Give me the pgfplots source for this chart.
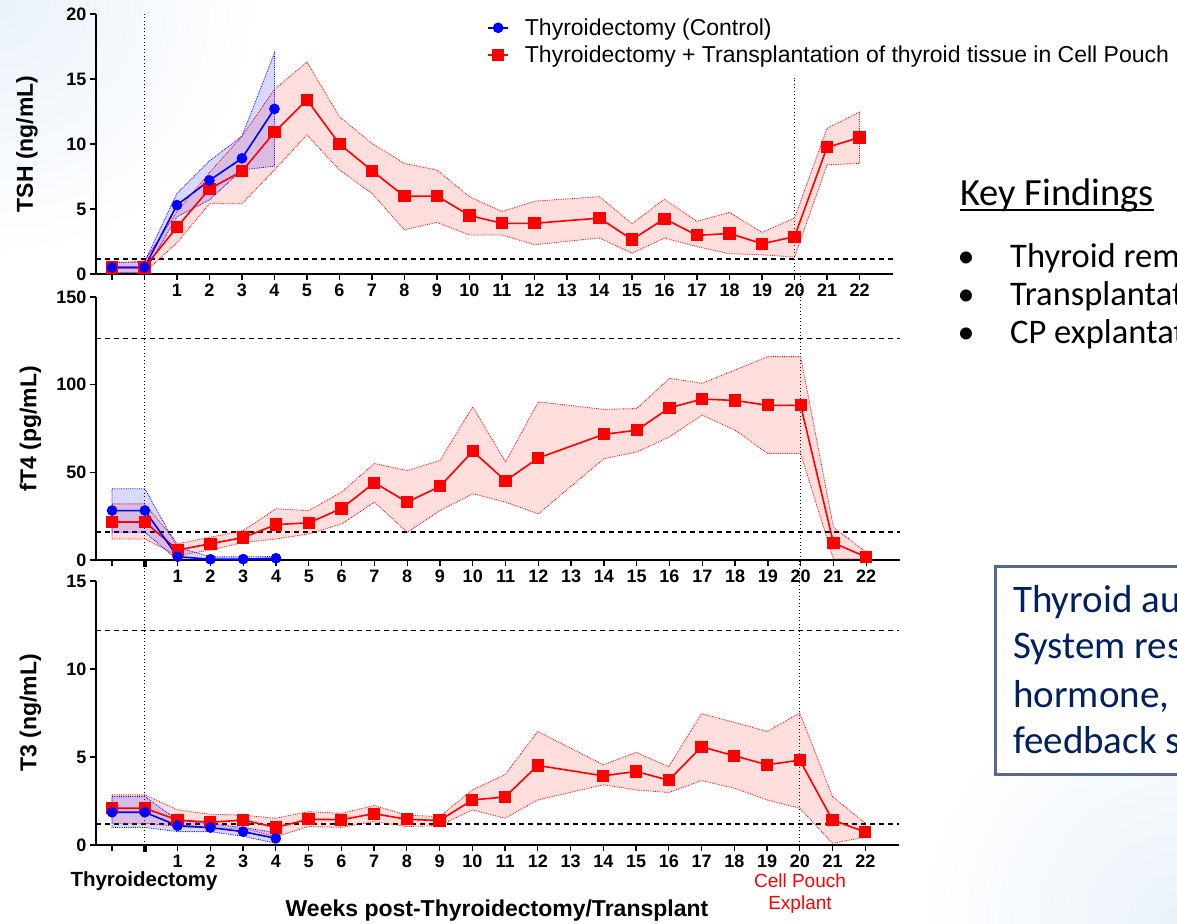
\documentclass[border=0pt]{standalone}
\usepackage{pgfplots}
\pgfplotsset{compat=1.18}
\usepackage{fontspec}
\setmainfont{Liberation Sans}
\newfontfamily\carlito{Carlito}
\definecolor{navy}{RGB}{0,32,96}
\definecolor{boxborder}{RGB}{84,104,146}
\definecolor{bgblue}{RGB}{234,242,250}

\pgfplotsset{
  panel/.style={
    scale only axis,
    xmin=-1.49, xmax=23.03,
    axis x line*=bottom, axis y line*=left,
    axis line style={line width=1.6pt, -},
    tick style={line width=1.3pt, black},
    tick align=outside,
    major tick length=6pt, minor tick length=6pt,
    xtick={1,...,22},
    /pgf/number format/assume math mode=true,
    tick label style={font=\fontsize{18}{21}\selectfont\bfseries},
    xticklabel style={text height=13pt, text depth=0pt, inner sep=1pt, yshift=-2.5pt},
    clip=false,
    every axis y label/.style={at={(axis description cs:-0.0815,0.5)},rotate=90,anchor=center,font=\fontsize{23}{27}\selectfont\bfseries},
  },
  thicktick/.style={extra x ticks={0}, extra x tick labels={}, extra x tick style={major tick length=7pt, major tick style={line width=4.5pt, black}}},
  redline/.style={red, line width=1.6pt, mark=square*, mark size=5.3pt, mark options={solid}},
  blueline/.style={blue, line width=1.6pt, mark=*, mark size=4.5pt, mark options={solid}},
  redband/.style={draw=red, fill=red, fill opacity=0.13, densely dotted, line width=0.8pt, forget plot},
  blueband/.style={draw=blue, fill=blue, fill opacity=0.15, densely dotted, line width=0.8pt, forget plot},
  refline/.style={black, line width=1.3pt, dash pattern=on 5pt off 4pt, forget plot},
  vline/.style={black, line width=1.1pt, dash pattern=on 1pt off 2.5pt, forget plot},
}

\begin{document}
\begin{tikzpicture}
\fill[white] (0pt,0pt) rectangle (1177pt,-923pt);
\begin{scope}
\clip (0pt,0pt) rectangle (1177pt,-923pt);
\shade[inner color=bgblue, outer color=white] (0pt,0pt) circle (260pt);
\shade[inner color=bgblue, outer color=white] (1177pt,-923pt) circle (260pt);
\end{scope}

% ---------------- TSH ----------------
\begin{axis}[panel, at={(96pt,-274pt)}, anchor=south west,
  width=797pt, height=260pt, ymin=0, ymax=20, ytick={0,5,10,15,20},
  minor xtick={-1,0},
  ylabel={TSH (ng/mL)},
  every axis y label/.append style={at={(axis description cs:-0.0865,0.5)}},
  reverse legend,
  legend style={draw=none, fill=none, at={(axis description cs:0.487,0.998)}, anchor=north west,
    font=\fontsize{23}{26}\selectfont, row sep=5pt, cells={anchor=west}},
  legend image code/.code={\draw[mark repeat=2,mark phase=2,#1] plot coordinates {(0pt,0pt) (10pt,0pt) (20pt,0pt)};},
]
\addplot[refline] coordinates {(-1.49,1.15)(23.03,1.15)};
\addplot[vline] coordinates {(0,0)(0,20)};
\addplot[vline] coordinates {(20,0)(20,15.1)};
% red band (upper forward, lower backward)
\addplot[redband] coordinates {(-1,0.85)(0,1.0)(1,4.8)(2,7.8)(3,10.6)(4,14.2)(5,16.3)(6,12.1)(7,10.05)(8,8.5)(9,8.0)(10,5.95)(11,4.8)(12,5.6)(14,5.95)(15,3.87)(16,5.76)(17,4.05)(18,4.74)(19,3.2)(20,4.3)(21,11.2)(22,12.45)
 (22,8.5)(21,8.4)(20,1.3)(19,1.48)(18,1.56)(17,2.1)(16,2.77)(15,1.6)(14,2.77)(12,2.25)(11,3.0)(10,3.0)(9,3.97)(8,3.4)(7,6.2)(6,8.0)(5,10.7)(4,8.0)(3,5.4)(2,5.4)(1,2.4)(0,0.1)(-1,0.1)} -- cycle;
% blue band
\addplot[blueband] coordinates {(-1,0.9)(0,0.9)(1,6.2)(2,8.7)(3,10.6)(4,17.0)(4,8.3)(3,8.0)(2,5.7)(1,4.4)(0,0.1)(-1,0.1)} -- cycle;
% means
\addplot[redline] coordinates {(-1,0.5)(0,0.5)(1,3.6)(2,6.55)(3,7.9)(4,10.9)(5,13.4)(6,10.0)(7,7.95)(8,5.97)(9,6.0)(10,4.5)(11,3.9)(12,3.9)(14,4.3)(15,2.65)(16,4.25)(17,2.97)(18,3.12)(19,2.33)(20,2.87)(21,9.74)(22,10.5)};
\addlegendentry{\hspace*{14pt}Thyroidectomy + Transplantation of thyroid tissue in Cell Pouch}
\addplot[blueline] coordinates {(-1,0.5)(0,0.5)(1,5.3)(2,7.2)(3,8.9)(4,12.7)};
\addlegendentry{\hspace*{14pt}Thyroidectomy (Control)}
\end{axis}

% ---------------- fT4 ----------------
\begin{axis}[panel, thicktick, at={(96pt,-560pt)}, anchor=south west,
  width=804pt, height=263pt, ymin=0, ymax=150, ytick={0,50,100,150},
  minor xtick={-1},
  ylabel={fT4 (pg/mL)},
]
\addplot[refline] coordinates {(-1.49,126.5)(23.03,126.5)};
\addplot[refline] coordinates {(-1.49,16)(23.03,16)};
\addplot[vline] coordinates {(0,0)(0,163)};
\addplot[vline] coordinates {(20,0)(20,163)};
\addplot[redband] coordinates {(-1,32)(0,32)(1,9.2)(2,13)(3,16.8)(4,29.2)(5,28.2)(6,38.7)(7,55)(8,51)(9,56.8)(10,87.4)(11,55.9)(12,90.2)(14,85.9)(15,86.4)(16,103.6)(17,100.8)(18,108.4)(19,116)(20,116)(21,18.7)(22,4.4)
 (22,0.6)(21,0.6)(20,60.7)(19,60.7)(18,74)(17,82.6)(16,70.2)(15,61.6)(14,57.8)(12,26.3)(11,33)(10,37.8)(9,28.2)(8,15.8)(7,33)(6,20.6)(5,14.9)(4,12)(3,10)(2,5.7)(1,2.5)(0,12)(-1,12)} -- cycle;
\addplot[blueband] coordinates {(-1,40.6)(0,40.6)(1,7.2)(2,1.8)(3,1.8)(4,2)(4,0)(3,0)(2,0)(1,0)(0,15.8)(-1,15.8)} -- cycle;
\addplot[redline] coordinates {(-1,21.7)(0,21.7)(1,5.7)(2,9.3)(3,12.8)(4,20.2)(5,21.2)(6,29.4)(7,44.1)(8,33.0)(9,42.0)(10,62.0)(11,45.2)(12,58.2)(14,71.7)(15,74.0)(16,86.8)(17,91.8)(18,91.0)(19,88.2)(20,88.2)(21,9.7)(22,1.7)};
\addplot[blueline] coordinates {(-1,28.2)(0,28.2)(1,1.9)(2,0.4)(3,0.5)(4,1.0)};
\end{axis}

% ---------------- T3 ----------------
\begin{axis}[panel, thicktick, at={(96pt,-845pt)}, anchor=south west,
  width=803pt, height=264pt, ymin=0, ymax=15, ytick={0,5,10,15},
  minor xtick={-1},
  ylabel={T3 (ng/mL)},
]
\addplot[refline] coordinates {(-1.49,12.2)(23.03,12.2)};
\addplot[refline] coordinates {(-1.49,1.2)(23.03,1.2)};
\addplot[vline] coordinates {(0,0)(0,16.2)};
\addplot[vline] coordinates {(20,0)(20,16.2)};
\addplot[redband] coordinates {(-1,2.85)(0,2.85)(1,2.0)(2,1.75)(3,1.7)(4,1.52)(5,1.9)(6,1.8)(7,2.24)(8,1.7)(9,1.61)(10,3.13)(11,4.0)(12,6.45)(14,4.56)(15,5.26)(16,4.46)(17,7.46)(18,6.97)(19,6.45)(20,7.5)(21,2.75)(22,1.24)
 (22,0.45)(21,0.1)(20,2.09)(19,2.56)(18,3.23)(17,3.66)(16,2.98)(15,3.13)(14,3.42)(12,2.56)(11,1.52)(10,2.0)(9,1.1)(8,1.05)(7,1.33)(6,1.0)(5,1.05)(4,0.47)(3,0.95)(2,0.95)(1,1.05)(0,1.24)(-1,1.24)} -- cycle;
\addplot[blueband] coordinates {(-1,2.75)(0,2.75)(1,1.42)(2,1.2)(3,1.0)(4,0.7)(4,0.1)(3,0.5)(2,0.76)(1,0.76)(0,1.0)(-1,1.0)} -- cycle;
\addplot[redline] coordinates {(-1,2.09)(0,2.09)(1,1.42)(2,1.29)(3,1.42)(4,1.0)(5,1.46)(6,1.44)(7,1.78)(8,1.46)(9,1.39)(10,2.56)(11,2.73)(12,4.52)(14,3.93)(15,4.18)(16,3.68)(17,5.58)(18,5.07)(19,4.56)(20,4.82)(21,1.42)(22,0.74)};
\addplot[blueline] coordinates {(-1,1.86)(0,1.86)(1,1.1)(2,0.99)(3,0.76)(4,0.38)};
\end{axis}

% annotations
\node[anchor=center, inner sep=0pt, font=\fontsize{20.5}{24}\selectfont\bfseries] at (144pt,-881pt) {Thyroidectomy};
\node[anchor=center, inner sep=0pt, font=\fontsize{23}{27}\selectfont\bfseries] at (497pt,-911pt) {Weeks post-Thyroidectomy/Transplant};
\node[anchor=center, inner sep=0pt, align=center, text=red, font=\fontsize{19}{22}\selectfont] at (800pt,-894pt) {Cell Pouch\\Explant};

% right-hand text (clipped at the slide edge, as in the slide)
\begin{scope}
\clip (0pt,0pt) rectangle (1177pt,-923pt);
\node[anchor=base west, inner sep=0pt, font=\carlito\fontsize{38.5}{46}\selectfont] (kf) at (960pt,-205pt) {Key Findings};
\draw[line width=1.8pt] ([yshift=-5pt]kf.base west) -- ([yshift=-5pt]kf.base east);
\foreach \yy/\tt in {267/Thyroid removal, 305/Transplantation, 343/CP explantation} {
  \node[anchor=base, inner sep=0pt, font=\carlito\fontsize{34}{40}\selectfont] at (966pt,-\yy pt) {•};
  \node[anchor=base west, inner sep=0pt, font=\carlito\fontsize{34.5}{40}\selectfont] at (1010pt,-\yy pt) {\tt};
}
\draw[line width=3pt, boxborder, fill=white] (995pt,-566pt) rectangle (1300pt,-774pt);
\foreach \yy/\tt in {612/Thyroid autotransplant, 658/System restores, 707/{hormone,}, 753/feedback system} {
  \node[anchor=base west, inner sep=0pt, text=navy, font=\carlito\fontsize{39}{46}\selectfont] at (1013pt,-\yy pt) {\tt};
}
\end{scope}
\pgfresetboundingbox
\path[use as bounding box] (0pt,0pt) rectangle (1177pt,-923pt);
\end{tikzpicture}
\end{document}
